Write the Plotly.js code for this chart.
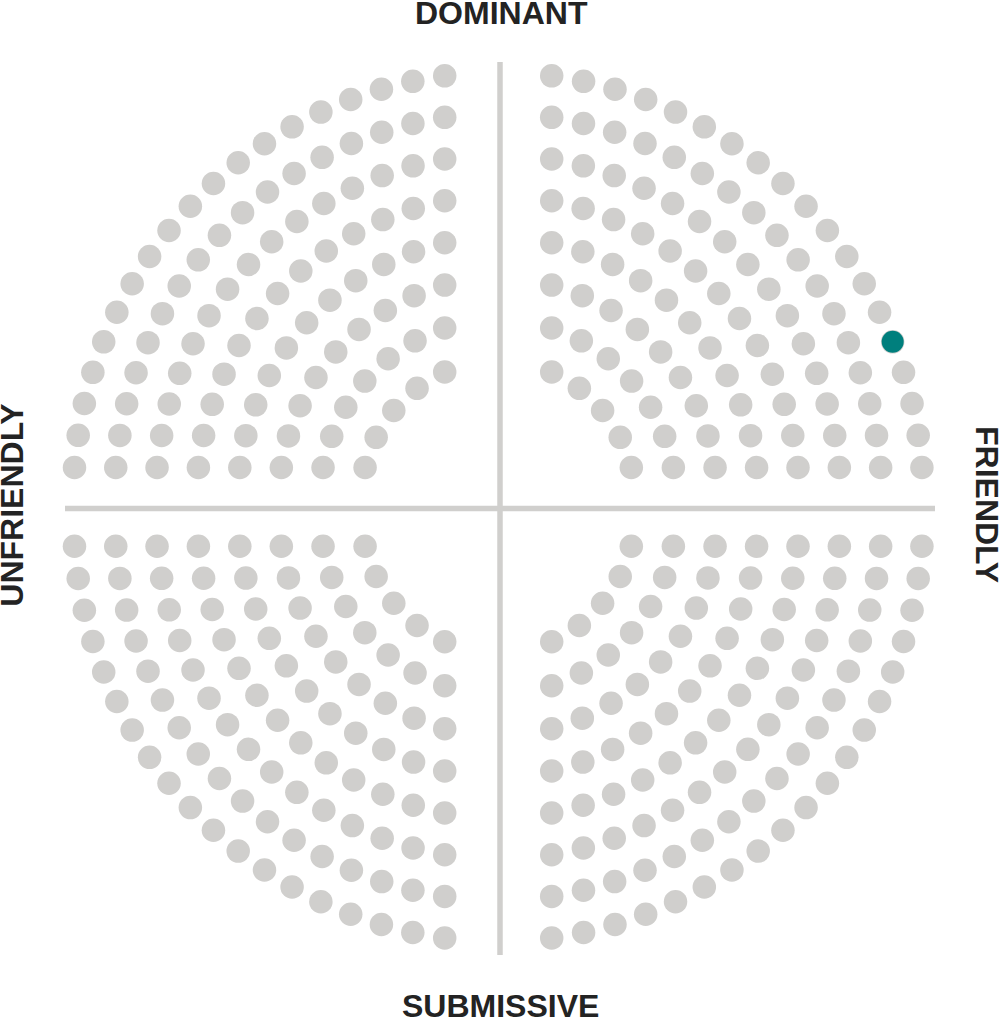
<!DOCTYPE html>
<html>
<head>
<meta charset="utf-8">
<script src="https://cdn.plot.ly/plotly-3.0.1.min.js"></script>
<style>html,body{margin:0;padding:0;background:#fff}</style>
</head>
<body>
<div id="chart" style="width:1000px;height:1018px"></div>
<script>
// ---------------- data ----------------
const axisLabels = ['DOMINANT', 'FRIENDLY', 'SUBMISSIVE', 'UNFRIENDLY'];
const quadrants = ['Dominant-Friendly', 'Dominant-Unfriendly', 'Submissive-Friendly', 'Submissive-Unfriendly'];
const arcDotCounts = [19, 17, 15, 13, 11, 9, 7, 5];   // dots on each arc, outer to inner, in every quadrant
const highlightQuadrant = 'Dominant-Friendly';
const highlightArc = 0;      // outermost arc
const highlightDot = 14;     // 15th dot counted from the vertical axis

// ---------------- layout / geometry ----------------
const W = 1000, H = 1018;
const M = {l: 65, r: 65, t: 62, b: 63};
const plotW = W - M.l - M.r, plotH = H - M.t - M.b;
const unit = plotW / 2;                 // px per data unit (x range [-1,1])
const yHalf = plotH / 2 / unit;          // isotropic y range

const R_OUTER = 428.7 / unit, R_STEP = 41.13 / unit;
const CUT_X = 57.2 / unit, CUT_Y = 33.2 / unit;
const HUB = {x: -3.7 / unit, y: 6.2 / unit};
const MIRROR = {x: -1.8 / unit, y: 1.6 / unit};
const SIGNS = {
  'Dominant-Friendly': [1, 1], 'Dominant-Unfriendly': [-1, 1],
  'Submissive-Friendly': [1, -1], 'Submissive-Unfriendly': [-1, -1]
};

const GREY = '#d0cfcd', TEAL = '#007f7d', TEXT = '#232323';

const xs = [], ys = [];
let hx = null, hy = null;
quadrants.forEach(q => {
  const [sx, sy] = SIGNS[q];
  arcDotCounts.forEach((n, k) => {
    const r = R_OUTER - k * R_STEP;
    const a0 = Math.acos(CUT_X / r), a1 = Math.asin(CUT_Y / r);
    for (let i = 0; i < n; i++) {
      const t = a0 + (a1 - a0) * i / (n - 1);
      const x = MIRROR.x + sx * (HUB.x + r * Math.cos(t));
      const y = MIRROR.y + sy * (HUB.y + r * Math.sin(t));
      xs.push(x); ys.push(y);
      if (q === highlightQuadrant && k === highlightArc && i === highlightDot) { hx = x; hy = y; }
    }
  });
});

const traces = [
  {type: 'scatter', mode: 'markers', x: xs, y: ys, hoverinfo: 'skip', cliponaxis: false,
   marker: {size: 23.5, color: GREY, line: {width: 0}}},
  {type: 'scatter', mode: 'markers', x: [hx], y: [hy], hoverinfo: 'skip', cliponaxis: false,
   marker: {size: 22, color: TEAL, line: {width: 0}}}
];

const font = {family: 'Liberation Sans, Arial, sans-serif', size: 32, color: TEXT};
const px = v => (v - M.l) / plotW;
const py = v => (H - M.b - v) / plotH;

const layout = {
  width: W, height: H, margin: M,
  paper_bgcolor: '#fff', plot_bgcolor: '#fff',
  showlegend: false,
  xaxis: {range: [-1, 1], visible: false, fixedrange: true},
  yaxis: {range: [-yHalf, yHalf], visible: false, fixedrange: true},
  shapes: [
    {type: 'line', xref: 'x', yref: 'paper', x0: 0, x1: 0, y0: 0, y1: 1, layer: 'below',
     line: {color: GREY, width: 5.5}},
    {type: 'line', xref: 'paper', yref: 'y', x0: 0, x1: 1, y0: 0, y1: 0, layer: 'below',
     line: {color: GREY, width: 5.5}}
  ],
  annotations: [
    {text: '<b>' + axisLabels[0] + '</b>', xref: 'paper', yref: 'paper', x: px(501.3), y: py(13),
     xanchor: 'center', yanchor: 'middle', showarrow: false, font: font},
    {text: '<b>' + axisLabels[1] + '</b>', xref: 'paper', yref: 'paper', x: px(987), y: py(504),
     xanchor: 'center', yanchor: 'middle', showarrow: false, textangle: 90, font: font},
    {text: '<b>' + axisLabels[2] + '</b>', xref: 'paper', yref: 'paper', x: px(500.8), y: py(1005.5),
     xanchor: 'center', yanchor: 'middle', showarrow: false, font: font},
    {text: '<b>' + axisLabels[3] + '</b>', xref: 'paper', yref: 'paper', x: px(11.7), y: py(505),
     xanchor: 'center', yanchor: 'middle', showarrow: false, textangle: -90, font: font}
  ]
};

Plotly.newPlot('chart', traces, layout, {displayModeBar: false, staticPlot: true});
</script>
</body>
</html>
